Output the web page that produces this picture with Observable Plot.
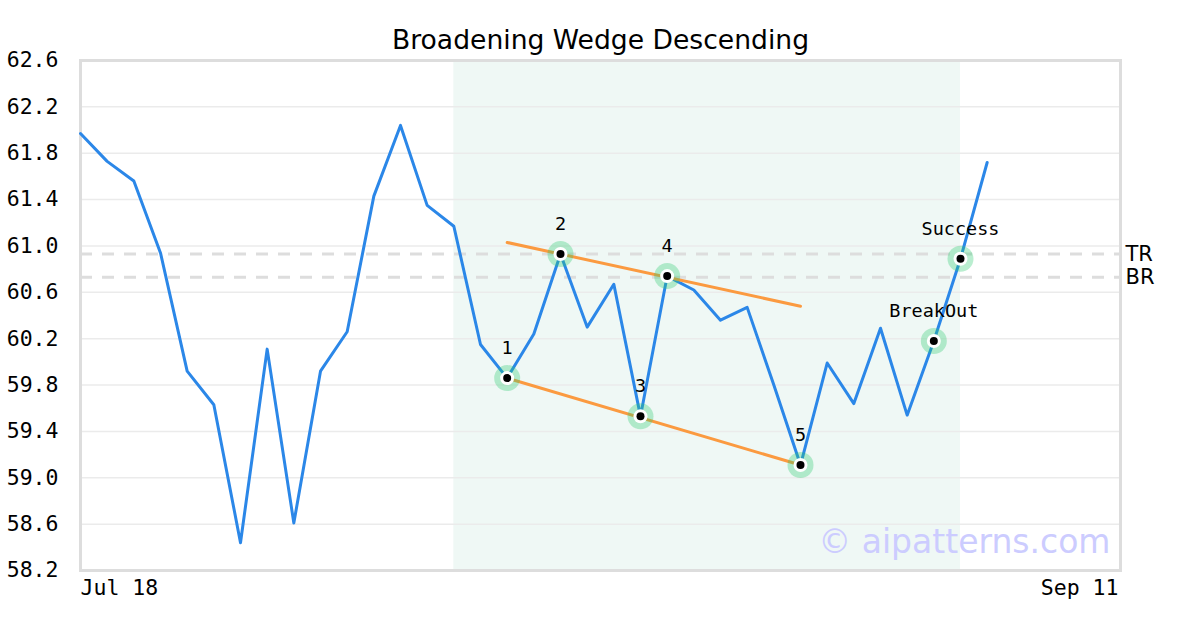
<!DOCTYPE html>
<html><head><meta charset="utf-8">
<script src="https://cdn.jsdelivr.net/npm/d3@7"></script>
<script src="https://cdn.jsdelivr.net/npm/@observablehq/plot@0.6"></script>
<style>body{margin:0;background:#fff;}</style>
</head><body><div id="chart"></div>
<script>
const title = "Broadening Wedge Descending";
const prices = [61.97,61.73,61.56,60.94,59.92,59.63,58.44,60.11,58.61,59.92,60.26,61.43,62.04,61.35,61.17,60.15,59.86,60.24,60.93,60.30,60.67,59.53,60.74,60.62,60.36,60.47,59.80,59.11,59.99,59.64,60.29,59.54,60.18,60.89,61.72];
const xTickIdx = [0, 39];
const xTickLabels = ["Jul 18", "Sep 11"];
const yTicks = [58.2,58.6,59.0,59.4,59.8,60.2,60.6,61.0,61.4,61.8,62.2,62.6];
const zoneStart = 14, zoneEnd = 33;
const pivotIdx = [16,18,21,22,27,32,33];
const pivotLabels = ["1","2","3","4","5","BreakOut","Success"];
const upperIdx = [16,27], upperVal = [61.03,60.48];
const lowerIdx = [16,27], lowerVal = [59.86,59.11];
const levelNames = ["TR","BR"];
const levelVals = [60.93,60.73];
const watermark = "© aipatterns.com";

const series = prices.map((v,i)=>({i,v}));
const pivots = pivotIdx.map((i,k)=>({i, v:prices[i], label:pivotLabels[k]}));
const upper = upperIdx.map((i,k)=>({i, v:upperVal[k]}));
const lower = lowerIdx.map((i,k)=>({i, v:lowerVal[k]}));
const levels = levelNames.map((n,k)=>({n, v:levelVals[k]}));
const xt = xTickIdx.map((i,k)=>({i, label:xTickLabels[k]}));

const mono = "DejaVu Sans Mono";
const sans = "DejaVu Sans";

const chart = Plot.plot({
  width:1200, height:630,
  marginLeft:80, marginRight:80, marginTop:60, marginBottom:60,
  x:{domain:[0,39], axis:null},
  y:{domain:[58.2,62.6], axis:null},
  style:{background:"#fff"},
  marks:[
    Plot.rect([{a:zoneStart,b:zoneEnd}], {x1:"a", x2:"b", y1:58.2, y2:62.6, fill:"#eff8f5"}),
    Plot.ruleY(yTicks, {stroke:"#ebebeb", strokeWidth:1.5}),
    Plot.ruleY(levels, {y:"v", stroke:"#dddddd", strokeWidth:3, strokeDasharray:"12,10"}),
    Plot.frame({stroke:"#dddddd", strokeWidth:3}),
    Plot.line(series, {x:"i", y:"v", stroke:"#2b87e8", strokeWidth:3}),
    Plot.line(upper, {x:"i", y:"v", stroke:"#fb9a40", strokeWidth:3}),
    Plot.line(lower, {x:"i", y:"v", stroke:"#fb9a40", strokeWidth:3}),
    Plot.dot(pivots, {x:"i", y:"v", r:13, fill:"#2ecc71", fillOpacity:0.33}),
    Plot.dot(pivots, {x:"i", y:"v", r:7, fill:"#fff"}),
    Plot.dot(pivots, {x:"i", y:"v", r:4, fill:"#000"}),
    Plot.text(pivots, {x:"i", y:"v", text:"label", dy:-30, fontSize:18.5, fontFamily:mono, fill:"#000"}),
    Plot.axisY(yTicks, {label:null, tickSize:0, tickPadding:22, fontSize:21.5, fontFamily:mono, tickFormat:d=>d.toFixed(1), color:"#000"}),
    Plot.text(xt.slice(0,1), {x:"i", y:58.2, text:"label", dy:18, textAnchor:"start", lineAnchor:"middle", fontSize:21.5, fontFamily:mono, fill:"#000"}),
    Plot.text(xt.slice(1), {x:"i", y:58.2, text:"label", dy:18, dx:-2, textAnchor:"end", lineAnchor:"middle", fontSize:21.5, fontFamily:mono, fill:"#000"}),
    Plot.text(levels, {x:39, y:"v", text:"n", dx:5, textAnchor:"start", fontSize:21, fontFamily:sans, fill:"#000"}),
    Plot.text([title], {frameAnchor:"top", dy:-20, lineAnchor:"middle", text:d=>d, fontSize:26.6, fontFamily:sans, fill:"#000"}),
    Plot.text([watermark], {frameAnchor:"bottom-right", dx:-10, dy:-28, lineAnchor:"middle", text:d=>d, fontSize:33, fontFamily:sans, fill:"#ccccff"})
  ]
});
document.getElementById("chart").appendChild(chart);
</script></body></html>
